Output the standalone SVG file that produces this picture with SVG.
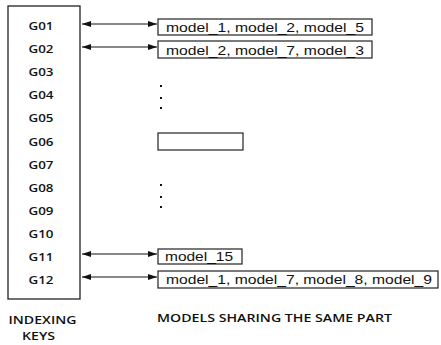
<svg xmlns="http://www.w3.org/2000/svg" width="441" height="345" viewBox="0 0 441 345">
<style>
.key{font-family:"Open Sans","Liberation Sans",sans-serif;font-size:11.5px;font-weight:600;fill:#111;text-anchor:middle}
.cap{font-family:"Open Sans","Liberation Sans",sans-serif;font-size:11.5px;font-weight:600;fill:#111}
.mt{font-family:"Liberation Sans",Arial,sans-serif;font-size:13.5px;fill:#111}
.box{fill:#fff;stroke:#222;stroke-width:1.2}
.conn{stroke:#111;stroke-width:1;fill:none;marker-start:url(#ah);marker-end:url(#ah)}
.dot{fill:#111}
</style>
<defs>
<marker id="ah" viewBox="0 0 9 6" refX="9" refY="3" markerWidth="9" markerHeight="6" markerUnits="userSpaceOnUse" orient="auto-start-reverse">
<path d="M0,0 L9,3 L0,6 z" fill="#111"/>
</marker>
</defs>
<rect width="441" height="345" fill="#fff"/>
<g id="keys">
<rect class="box" x="8" y="6" width="72" height="293" style="stroke-width:1.3"/>
<text class="key" x="41" y="30" textLength="25" lengthAdjust="spacingAndGlyphs">G01</text>
<text class="key" x="41" y="53.1" textLength="25" lengthAdjust="spacingAndGlyphs">G02</text>
<text class="key" x="41" y="76.2" textLength="25" lengthAdjust="spacingAndGlyphs">G03</text>
<text class="key" x="41" y="99.3" textLength="25" lengthAdjust="spacingAndGlyphs">G04</text>
<text class="key" x="41" y="122.4" textLength="25" lengthAdjust="spacingAndGlyphs">G05</text>
<text class="key" x="41" y="145.5" textLength="25" lengthAdjust="spacingAndGlyphs">G06</text>
<text class="key" x="41" y="168.6" textLength="25" lengthAdjust="spacingAndGlyphs">G07</text>
<text class="key" x="41" y="191.7" textLength="25" lengthAdjust="spacingAndGlyphs">G08</text>
<text class="key" x="41" y="214.8" textLength="25" lengthAdjust="spacingAndGlyphs">G09</text>
<text class="key" x="41" y="237.9" textLength="25" lengthAdjust="spacingAndGlyphs">G10</text>
<text class="key" x="41" y="261" textLength="25" lengthAdjust="spacingAndGlyphs">G11</text>
<text class="key" x="41" y="284.2" textLength="25" lengthAdjust="spacingAndGlyphs">G12</text>
</g>
<g id="connectors">
<line class="conn" x1="82" y1="24" x2="157" y2="24"/>
<line class="conn" x1="82" y1="47" x2="157" y2="47"/>
<line class="conn" x1="82" y1="254" x2="157" y2="254"/>
<line class="conn" x1="82" y1="277" x2="157" y2="277"/>
</g>
<g id="models-g01">
<rect class="box" x="158" y="19" width="214" height="16"/>
<text class="mt" x="166" y="31.5" textLength="198" lengthAdjust="spacingAndGlyphs">model_1, model_2, model_5</text>
</g>
<g id="models-g02">
<rect class="box" x="158" y="41" width="214" height="17"/>
<text class="mt" x="166" y="54.5" textLength="198" lengthAdjust="spacingAndGlyphs">model_2, model_7, model_3</text>
</g>
<g id="dots-1">
<rect class="dot" x="160" y="85" width="2" height="2"/>
<rect class="dot" x="160" y="97" width="2" height="2"/>
<rect class="dot" x="160" y="107" width="2" height="2"/>
</g>
<g id="models-g06">
<rect class="box" x="158" y="133" width="85" height="17"/>
</g>
<g id="dots-2">
<rect class="dot" x="160" y="184" width="2" height="2"/>
<rect class="dot" x="160" y="196" width="2" height="2"/>
<rect class="dot" x="160" y="206" width="2" height="2"/>
</g>
<g id="models-g11">
<rect class="box" x="158" y="249" width="84" height="15"/>
<text class="mt" x="165" y="260.5" textLength="68" lengthAdjust="spacingAndGlyphs">model_15</text>
</g>
<g id="models-g12">
<rect class="box" x="158" y="271" width="280" height="17"/>
<text class="mt" x="166" y="284" textLength="266" lengthAdjust="spacingAndGlyphs">model_1, model_7, model_8, model_9</text>
</g>
<g id="captions">
<text class="cap" x="42.5" y="324" text-anchor="middle" textLength="68" lengthAdjust="spacingAndGlyphs">INDEXING</text>
<text class="cap" x="38.5" y="339.5" text-anchor="middle" textLength="33" lengthAdjust="spacingAndGlyphs">KEYS</text>
<text class="cap" x="157" y="322" textLength="235" lengthAdjust="spacingAndGlyphs">MODELS SHARING THE SAME PART</text>
</g>
</svg>
